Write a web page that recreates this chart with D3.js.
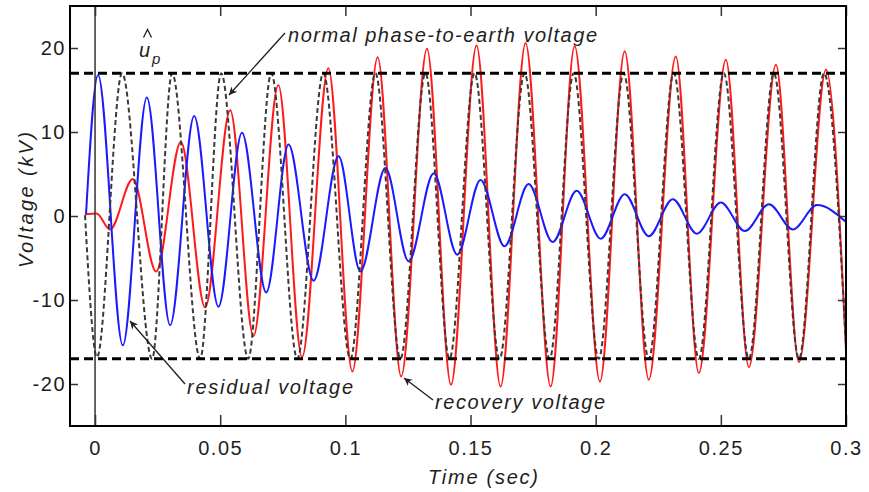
<!DOCTYPE html>
<html>
<head>
<meta charset="utf-8">
<script src="https://d3js.org/d3.v7.min.js"></script>
<style>
body { margin: 0; background: #fff; }
svg text { font-family: "Liberation Sans", Arial, sans-serif; }
</style>
</head>
<body>
<div id="chart"></div>
<script>
// turning points of each trace: time (s) and voltage (kV)
var residualT = [-0.0036, 0.0012, 0.0111, 0.0207, 0.030, 0.0396, 0.0493, 0.0587, 0.0684, 0.0773, 0.0873, 0.0973, 0.106, 0.116, 0.1253, 0.1353, 0.1447, 0.154, 0.1636, 0.1732, 0.1828, 0.1924, 0.202, 0.2116, 0.2212, 0.2308, 0.2404, 0.25, 0.2596, 0.2692, 0.2788, 0.2884, 0.3];
var residualV = [0.2, 16.8, -15.4, 14.1, -13.0, 11.9, -10.8, 9.9, -9.1, 8.5, -7.7, 7.1, -6.6, 5.7, -5.4, 5.1, -4.6, 4.3, -3.6, 3.8, -3.1, 3.0, -2.7, 2.6, -2.4, 2.0, -2.1, 1.6, -1.8, 1.4, -1.6, 1.3, -0.7];

var recoveryT = [-0.004, 0.0006, 0.006, 0.0151, 0.0244, 0.0343, 0.044, 0.054, 0.0633, 0.0732, 0.0827, 0.0932, 0.1028, 0.1129, 0.1223, 0.1326, 0.1422, 0.1524, 0.162, 0.172, 0.182, 0.1916, 0.2017, 0.2116, 0.2212, 0.232, 0.2412, 0.252, 0.2612, 0.272, 0.2812, 0.292, 0.3];
var recoveryV = [0.2, 0.3, -1.6, 4.4, -6.6, 8.8, -10.9, 12.6, -14.3, 15.6, -16.8, 17.6, -18.5, 18.9, -19.1, 19.9, -20.1, 20.3, -20.3, 20.6, -20.3, 20.2, -19.7, 19.6, -19.5, 19.0, -18.7, 18.6, -18.0, 18.0, -17.4, 17.4, -16.0];

var normalT = [-0.004, 0.0008, 0.0108, 0.0228, 0.0308, 0.042, 0.0504, 0.0612, 0.0704, 0.0808, 0.0912, 0.102, 0.112, 0.122, 0.132, 0.1416, 0.1516, 0.1616, 0.1716, 0.1816, 0.1912, 0.2012, 0.2112, 0.2212, 0.2312, 0.2412, 0.2512, 0.2612, 0.2712, 0.2812, 0.2912, 0.3];
var normalV = [0.1, -16.8, 17, -17, 17, -17, 17, -17, 17, -17, 17, -17, 17, -17, 17, -17, 17, -17, 17, -17, 17, -17, 17, -17, 17, -17, 17, -17, 17, -17, 17, -15.5];

var peakLevel = 17;

var xTicks = [0, 0.05, 0.1, 0.15, 0.2, 0.25, 0.3];
var xTickLabels = ["0", "0.05", "0.1", "0.15", "0.2", "0.25", "0.3"];
var yTicks = [-20, -10, 0, 10, 20];
var yTickLabels = ["-20", "-10", "0", "10", "20"];

var w = 869;
var h = 492;
var pl = 70, pr = 846, pt = 6, pb = 426;
var ink = "#1e1e1e";

const x = d3.scaleLinear().domain([-0.01, 0.3]).range([pl, pr]);
const y = d3.scaleLinear().domain([-25, 25]).range([pb, pt]);

const svg = d3
  .select("#chart")
  .append("svg")
  .attr("width", w)
  .attr("height", h);

svg
  .append("defs")
  .call((defs) => {
    defs
      .append("clipPath")
      .attr("id", "plot")
      .append("rect")
      .attr("x", pl)
      .attr("y", pt)
      .attr("width", pr - pl)
      .attr("height", pb - pt);
    defs
      .append("marker")
      .attr("id", "head")
      .attr("viewBox", "0 0 10 10")
      .attr("refX", 10)
      .attr("refY", 5)
      .attr("markerWidth", 10)
      .attr("markerHeight", 8)
      .attr("markerUnits", "userSpaceOnUse")
      .attr("orient", "auto")
      .append("path")
      .attr("d", "M0,0L10,5L0,10L3,5Z")
      .attr("fill", ink);
  });

const line = d3
  .line()
  .x((d) => x(d[0]))
  .y((d) => y(d[1]))
  .curve(d3.curveMonotoneX);

const plot = svg.append("g").attr("clip-path", "url(#plot)");

plot
  .append("path")
  .datum(d3.zip(recoveryT, recoveryV))
  .attr("d", line)
  .attr("fill", "none")
  .attr("stroke", "#ff1a1a")
  .attr("stroke-width", 2);

plot
  .append("path")
  .datum(d3.zip(residualT, residualV))
  .attr("d", line)
  .attr("fill", "none")
  .attr("stroke", "#1a1aff")
  .attr("stroke-width", 2);

plot
  .append("path")
  .datum(d3.zip(normalT, normalV))
  .attr("d", line)
  .attr("fill", "none")
  .attr("stroke", "#3a3a3a")
  .attr("stroke-width", 2)
  .attr("stroke-dasharray", "5,3");

plot
  .selectAll(".level")
  .data([peakLevel, -peakLevel])
  .enter()
  .append("line")
  .attr("class", "level")
  .attr("x1", pl)
  .attr("x2", pr)
  .attr("y1", (d) => y(d))
  .attr("y2", (d) => y(d))
  .attr("stroke", "#000")
  .attr("stroke-width", 3)
  .attr("stroke-dasharray", "9,5");

plot
  .append("line")
  .attr("x1", x(0))
  .attr("x2", x(0))
  .attr("y1", pt)
  .attr("y2", pb)
  .attr("stroke", "#333")
  .attr("stroke-width", 1.5);

function styleAxis(g) {
  g.select(".domain").remove();
  g.attr("color", ink).attr("font-size", 20).attr("font-family", null);
  g.selectAll(".tick line").attr("stroke", "#333").attr("stroke-width", 1.5);
  g.selectAll(".tick text").attr("letter-spacing", "1.5px");
}

svg
  .append("g")
  .attr("transform", `translate(0,${pb})`)
  .call(
    d3
      .axisBottom(x)
      .tickValues(xTicks)
      .tickSizeInner(-11)
      .tickSizeOuter(0)
      .tickPadding(15)
      .tickFormat((d, i) => xTickLabels[i])
  )
  .call(styleAxis);

svg
  .append("g")
  .attr("transform", `translate(0,${pt})`)
  .call(d3.axisTop(x).tickValues(xTicks).tickSizeInner(-10).tickSizeOuter(0).tickFormat(""))
  .call(styleAxis);

svg
  .append("g")
  .attr("transform", `translate(${pl},0)`)
  .call(
    d3
      .axisLeft(y)
      .tickValues(yTicks)
      .tickSizeInner(-8)
      .tickSizeOuter(0)
      .tickPadding(4)
      .tickFormat((d, i) => yTickLabels[i])
  )
  .call(styleAxis);

svg
  .append("g")
  .attr("transform", `translate(${pr},0)`)
  .call(d3.axisRight(y).tickValues(yTicks).tickSizeInner(-8).tickSizeOuter(0).tickFormat(""))
  .call(styleAxis);

svg
  .append("rect")
  .attr("x", pl)
  .attr("y", pt)
  .attr("width", pr - pl)
  .attr("height", pb - pt)
  .attr("fill", "none")
  .attr("stroke", "#000")
  .attr("stroke-width", 2);

// axis titles
svg
  .append("text")
  .attr("x", 483)
  .attr("y", 484)
  .attr("text-anchor", "middle")
  .attr("font-size", 20)
  .attr("font-style", "italic")
  .attr("fill", ink)
  .attr("textLength", 110)
  .text("Time (sec)");

svg
  .append("text")
  .attr("transform", "translate(33,200) rotate(-90)")
  .attr("text-anchor", "middle")
  .attr("font-size", 20)
  .attr("font-style", "italic")
  .attr("fill", ink)
  .attr("textLength", 136)
  .text("Voltage (kV)");

// annotations
var notes = [
  { text: "normal phase-to-earth voltage", x: 288, y: 42, len: 309, from: [285, 33], to: [229, 95] },
  { text: "residual voltage", x: 187, y: 394, len: 166, from: [185, 384], to: [130, 321] },
  { text: "recovery voltage", x: 435, y: 409, len: 170, from: [433, 400], to: [404, 378] }
];

svg
  .selectAll(".note")
  .data(notes)
  .enter()
  .append("text")
  .attr("class", "note")
  .attr("x", (d) => d.x)
  .attr("y", (d) => d.y)
  .attr("font-size", 20)
  .attr("font-style", "italic")
  .attr("fill", ink)
  .attr("textLength", (d) => d.len)
  .text((d) => d.text);

svg
  .selectAll(".arrow")
  .data(notes)
  .enter()
  .append("line")
  .attr("class", "arrow")
  .attr("x1", (d) => d.from[0])
  .attr("y1", (d) => d.from[1])
  .attr("x2", (d) => d.to[0])
  .attr("y2", (d) => d.to[1])
  .attr("stroke", ink)
  .attr("stroke-width", 1.3)
  .attr("marker-end", "url(#head)");

// u-hat with subscript p
const up = svg.append("g").attr("fill", ink).attr("font-style", "italic");
up.append("text").attr("x", 139).attr("y", 57).attr("font-size", 20).text("u");
up.append("text").attr("x", 152).attr("y", 64).attr("font-size", 15).text("p");
up.append("path")
  .attr("d", "M143.5,37.5L147.5,29.5L151.5,37.5")
  .attr("fill", "none")
  .attr("stroke", ink)
  .attr("stroke-width", 1.3);
</script>
</body>
</html>
